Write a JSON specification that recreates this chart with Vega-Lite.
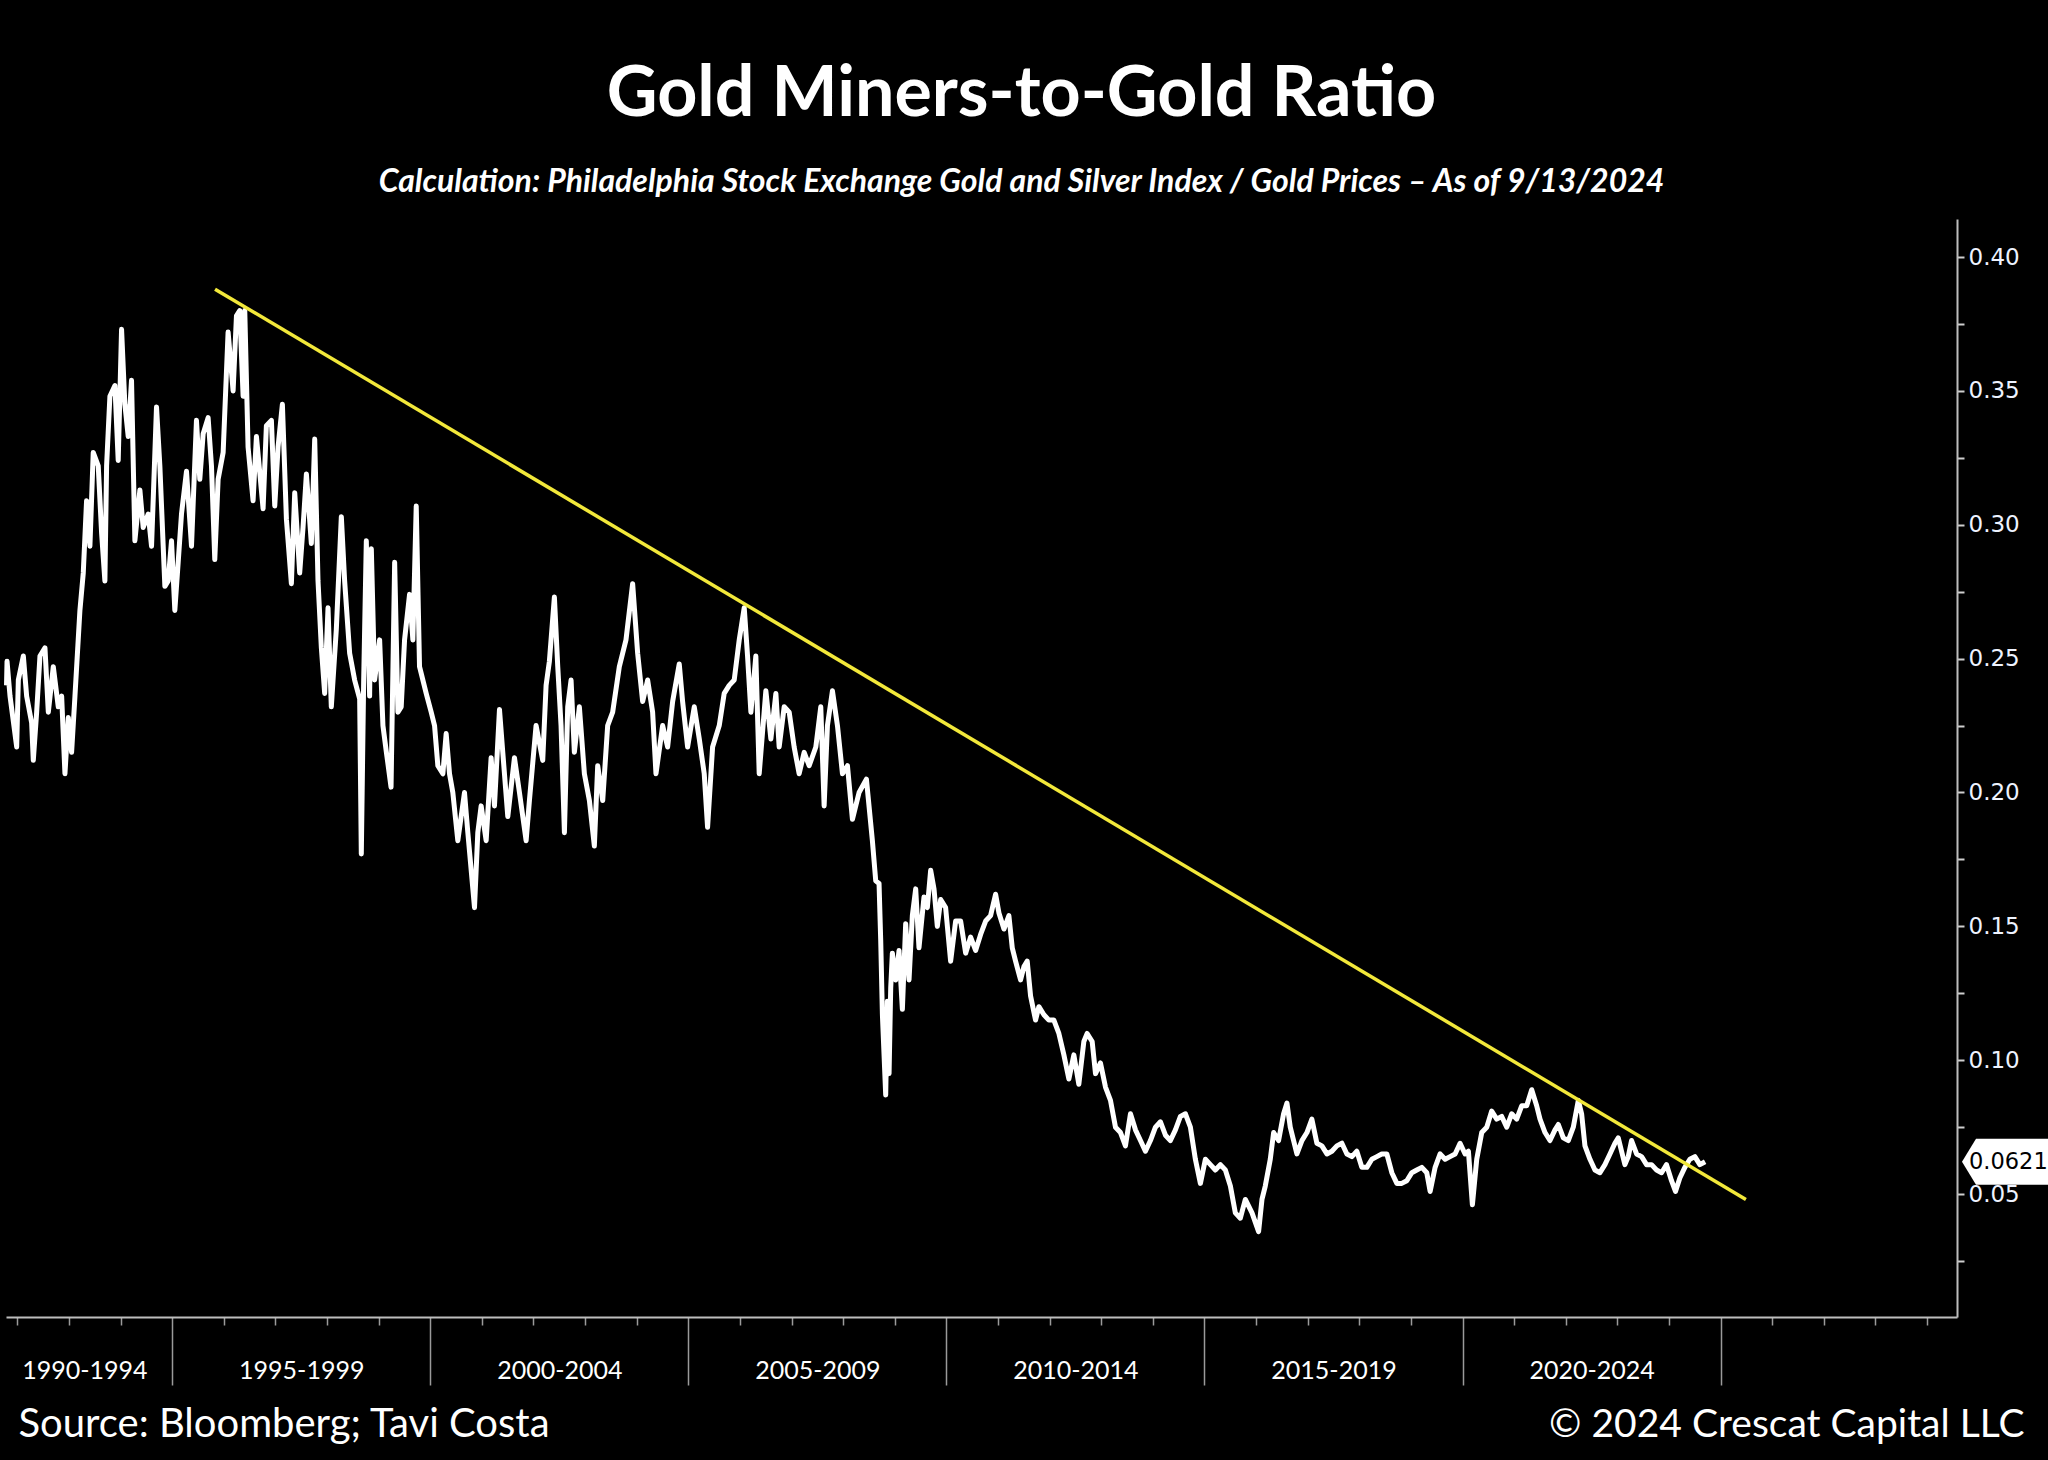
{
  "$schema": "https://vega.github.io/schema/vega-lite/v6.json",
  "width": 1951,
  "height": 1098,
  "autosize": {"type": "none"},
  "padding": {"left": 6, "top": 219, "right": 91, "bottom": 143},
  "background": "#000000",
  "config": {"view": {"stroke": null}, "font": "Lato"},
  "title": {
    "text": "Gold Miners-to-Gold Ratio",
    "subtitle": "Calculation: Philadelphia Stock Exchange Gold and Silver Index / Gold Prices – As of 9/13/2024",
    "anchor": "middle",
    "dx": 40,
    "color": "#ffffff",
    "subtitleColor": "#ffffff",
    "font": "Lato",
    "fontSize": 70,
    "fontWeight": "bold",
    "subtitleFont": "Lato",
    "subtitleFontSize": 32,
    "subtitleFontWeight": "bold",
    "subtitleFontStyle": "italic",
    "subtitlePadding": 36,
    "offset": 20
  },
  "datasets": {
    "main": [
      {"year": 1991.79, "ratio": 0.240}, {"year": 1991.80, "ratio": 0.249}, {"year": 1991.858, "ratio": 0.236}, {"year": 1991.987, "ratio": 0.217},
      {"year": 1992.019, "ratio": 0.242}, {"year": 1992.116, "ratio": 0.251}, {"year": 1992.18, "ratio": 0.236}, {"year": 1992.277, "ratio": 0.226},
      {"year": 1992.309, "ratio": 0.212}, {"year": 1992.374, "ratio": 0.230}, {"year": 1992.438, "ratio": 0.251}, {"year": 1992.535, "ratio": 0.254},
      {"year": 1992.6, "ratio": 0.230}, {"year": 1992.696, "ratio": 0.247}, {"year": 1992.793, "ratio": 0.232}, {"year": 1992.858, "ratio": 0.236},
      {"year": 1992.922, "ratio": 0.207}, {"year": 1992.987, "ratio": 0.228}, {"year": 1993.051, "ratio": 0.215}, {"year": 1993.116, "ratio": 0.236},
      {"year": 1993.212, "ratio": 0.268}, {"year": 1993.277, "ratio": 0.282}, {"year": 1993.341, "ratio": 0.309}, {"year": 1993.406, "ratio": 0.292},
      {"year": 1993.47, "ratio": 0.327}, {"year": 1993.567, "ratio": 0.322}, {"year": 1993.632, "ratio": 0.297}, {"year": 1993.696, "ratio": 0.279},
      {"year": 1993.729, "ratio": 0.322}, {"year": 1993.793, "ratio": 0.348}, {"year": 1993.89, "ratio": 0.352}, {"year": 1993.954, "ratio": 0.324},
      {"year": 1994.019, "ratio": 0.373}, {"year": 1994.083, "ratio": 0.345}, {"year": 1994.148, "ratio": 0.333}, {"year": 1994.212, "ratio": 0.354},
      {"year": 1994.277, "ratio": 0.294}, {"year": 1994.374, "ratio": 0.313}, {"year": 1994.438, "ratio": 0.299}, {"year": 1994.535, "ratio": 0.304},
      {"year": 1994.6, "ratio": 0.292}, {"year": 1994.696, "ratio": 0.344}, {"year": 1994.761, "ratio": 0.322}, {"year": 1994.858, "ratio": 0.277},
      {"year": 1994.922, "ratio": 0.279}, {"year": 1994.987, "ratio": 0.294}, {"year": 1995.051, "ratio": 0.268}, {"year": 1995.116, "ratio": 0.286},
      {"year": 1995.18, "ratio": 0.304}, {"year": 1995.277, "ratio": 0.320}, {"year": 1995.374, "ratio": 0.292}, {"year": 1995.47, "ratio": 0.339},
      {"year": 1995.535, "ratio": 0.317}, {"year": 1995.6, "ratio": 0.334}, {"year": 1995.696, "ratio": 0.340}, {"year": 1995.761, "ratio": 0.322},
      {"year": 1995.825, "ratio": 0.287}, {"year": 1995.89, "ratio": 0.317}, {"year": 1995.987, "ratio": 0.327}, {"year": 1996.083, "ratio": 0.372},
      {"year": 1996.18, "ratio": 0.350}, {"year": 1996.245, "ratio": 0.378}, {"year": 1996.309, "ratio": 0.380}, {"year": 1996.374, "ratio": 0.348},
      {"year": 1996.406, "ratio": 0.380}, {"year": 1996.47, "ratio": 0.329}, {"year": 1996.567, "ratio": 0.309}, {"year": 1996.632, "ratio": 0.333},
      {"year": 1996.761, "ratio": 0.306}, {"year": 1996.825, "ratio": 0.337}, {"year": 1996.922, "ratio": 0.339}, {"year": 1996.987, "ratio": 0.307},
      {"year": 1997.051, "ratio": 0.329}, {"year": 1997.135, "ratio": 0.345}, {"year": 1997.213, "ratio": 0.302}, {"year": 1997.309, "ratio": 0.278},
      {"year": 1997.374, "ratio": 0.312}, {"year": 1997.47, "ratio": 0.282}, {"year": 1997.535, "ratio": 0.299}, {"year": 1997.6, "ratio": 0.319},
      {"year": 1997.696, "ratio": 0.293}, {"year": 1997.761, "ratio": 0.332}, {"year": 1997.825, "ratio": 0.279}, {"year": 1997.89, "ratio": 0.254},
      {"year": 1997.954, "ratio": 0.237}, {"year": 1998.019, "ratio": 0.269}, {"year": 1998.083, "ratio": 0.232}, {"year": 1998.18, "ratio": 0.261},
      {"year": 1998.277, "ratio": 0.303}, {"year": 1998.341, "ratio": 0.279}, {"year": 1998.438, "ratio": 0.252}, {"year": 1998.535, "ratio": 0.242},
      {"year": 1998.632, "ratio": 0.235}, {"year": 1998.664, "ratio": 0.177}, {"year": 1998.71, "ratio": 0.242}, {"year": 1998.761, "ratio": 0.294},
      {"year": 1998.825, "ratio": 0.236}, {"year": 1998.858, "ratio": 0.291}, {"year": 1998.922, "ratio": 0.242}, {"year": 1999.019, "ratio": 0.257},
      {"year": 1999.083, "ratio": 0.225}, {"year": 1999.15, "ratio": 0.215}, {"year": 1999.24, "ratio": 0.202}, {"year": 1999.31, "ratio": 0.286},
      {"year": 1999.373, "ratio": 0.230}, {"year": 1999.437, "ratio": 0.232}, {"year": 1999.502, "ratio": 0.257}, {"year": 1999.599, "ratio": 0.274},
      {"year": 1999.663, "ratio": 0.257}, {"year": 1999.728, "ratio": 0.307}, {"year": 1999.792, "ratio": 0.247}, {"year": 1999.921, "ratio": 0.237},
      {"year": 2000.018, "ratio": 0.230}, {"year": 2000.083, "ratio": 0.225}, {"year": 2000.147, "ratio": 0.210}, {"year": 2000.244, "ratio": 0.207},
      {"year": 2000.308, "ratio": 0.222}, {"year": 2000.373, "ratio": 0.207}, {"year": 2000.437, "ratio": 0.200}, {"year": 2000.534, "ratio": 0.182},
      {"year": 2000.663, "ratio": 0.200}, {"year": 2000.728, "ratio": 0.185}, {"year": 2000.857, "ratio": 0.157}, {"year": 2000.921, "ratio": 0.185},
      {"year": 2000.986, "ratio": 0.195}, {"year": 2001.083, "ratio": 0.182}, {"year": 2001.179, "ratio": 0.213}, {"year": 2001.244, "ratio": 0.195},
      {"year": 2001.341, "ratio": 0.231}, {"year": 2001.405, "ratio": 0.215}, {"year": 2001.502, "ratio": 0.191}, {"year": 2001.631, "ratio": 0.213},
      {"year": 2001.728, "ratio": 0.200}, {"year": 2001.857, "ratio": 0.182}, {"year": 2001.921, "ratio": 0.197}, {"year": 2002.05, "ratio": 0.225},
      {"year": 2002.179, "ratio": 0.212}, {"year": 2002.244, "ratio": 0.240}, {"year": 2002.308, "ratio": 0.249}, {"year": 2002.405, "ratio": 0.273},
      {"year": 2002.47, "ratio": 0.247}, {"year": 2002.534, "ratio": 0.225}, {"year": 2002.599, "ratio": 0.185}, {"year": 2002.663, "ratio": 0.232},
      {"year": 2002.728, "ratio": 0.242}, {"year": 2002.792, "ratio": 0.215}, {"year": 2002.889, "ratio": 0.232}, {"year": 2002.986, "ratio": 0.207},
      {"year": 2003.083, "ratio": 0.197}, {"year": 2003.179, "ratio": 0.180}, {"year": 2003.244, "ratio": 0.210}, {"year": 2003.341, "ratio": 0.197},
      {"year": 2003.437, "ratio": 0.225}, {"year": 2003.534, "ratio": 0.230}, {"year": 2003.663, "ratio": 0.247}, {"year": 2003.792, "ratio": 0.257},
      {"year": 2003.921, "ratio": 0.278}, {"year": 2004.018, "ratio": 0.252}, {"year": 2004.115, "ratio": 0.234}, {"year": 2004.212, "ratio": 0.242},
      {"year": 2004.308, "ratio": 0.230}, {"year": 2004.373, "ratio": 0.207}, {"year": 2004.502, "ratio": 0.225}, {"year": 2004.599, "ratio": 0.217},
      {"year": 2004.696, "ratio": 0.234}, {"year": 2004.824, "ratio": 0.248}, {"year": 2004.889, "ratio": 0.234}, {"year": 2004.986, "ratio": 0.217},
      {"year": 2005.115, "ratio": 0.232}, {"year": 2005.212, "ratio": 0.220}, {"year": 2005.308, "ratio": 0.207}, {"year": 2005.373, "ratio": 0.187},
      {"year": 2005.47, "ratio": 0.217}, {"year": 2005.599, "ratio": 0.225}, {"year": 2005.695, "ratio": 0.237}, {"year": 2005.792, "ratio": 0.240},
      {"year": 2005.889, "ratio": 0.242}, {"year": 2005.986, "ratio": 0.257}, {"year": 2006.083, "ratio": 0.269}, {"year": 2006.147, "ratio": 0.251},
      {"year": 2006.212, "ratio": 0.230}, {"year": 2006.308, "ratio": 0.251}, {"year": 2006.373, "ratio": 0.207}, {"year": 2006.502, "ratio": 0.238},
      {"year": 2006.599, "ratio": 0.220}, {"year": 2006.696, "ratio": 0.237}, {"year": 2006.76, "ratio": 0.217}, {"year": 2006.857, "ratio": 0.232},
      {"year": 2006.954, "ratio": 0.230}, {"year": 2007.05, "ratio": 0.217}, {"year": 2007.147, "ratio": 0.207}, {"year": 2007.244, "ratio": 0.215},
      {"year": 2007.341, "ratio": 0.210}, {"year": 2007.47, "ratio": 0.217}, {"year": 2007.566, "ratio": 0.232}, {"year": 2007.631, "ratio": 0.195},
      {"year": 2007.695, "ratio": 0.225}, {"year": 2007.792, "ratio": 0.238}, {"year": 2007.889, "ratio": 0.225}, {"year": 2007.986, "ratio": 0.207},
      {"year": 2008.083, "ratio": 0.210}, {"year": 2008.179, "ratio": 0.190}, {"year": 2008.308, "ratio": 0.200}, {"year": 2008.45, "ratio": 0.205},
      {"year": 2008.566, "ratio": 0.182}, {"year": 2008.631, "ratio": 0.167}, {"year": 2008.695, "ratio": 0.166}, {"year": 2008.727, "ratio": 0.145},
      {"year": 2008.76, "ratio": 0.117}, {"year": 2008.824, "ratio": 0.087}, {"year": 2008.856, "ratio": 0.122}, {"year": 2008.889, "ratio": 0.095},
      {"year": 2008.921, "ratio": 0.127}, {"year": 2008.953, "ratio": 0.140}, {"year": 2009.018, "ratio": 0.130}, {"year": 2009.082, "ratio": 0.141},
      {"year": 2009.147, "ratio": 0.119}, {"year": 2009.211, "ratio": 0.151}, {"year": 2009.276, "ratio": 0.130}, {"year": 2009.34, "ratio": 0.154},
      {"year": 2009.405, "ratio": 0.164}, {"year": 2009.469, "ratio": 0.142}, {"year": 2009.566, "ratio": 0.161}, {"year": 2009.631, "ratio": 0.157},
      {"year": 2009.695, "ratio": 0.171}, {"year": 2009.76, "ratio": 0.164}, {"year": 2009.824, "ratio": 0.150}, {"year": 2009.889, "ratio": 0.160},
      {"year": 2009.985, "ratio": 0.157}, {"year": 2010.082, "ratio": 0.137}, {"year": 2010.179, "ratio": 0.152}, {"year": 2010.276, "ratio": 0.152},
      {"year": 2010.373, "ratio": 0.140}, {"year": 2010.469, "ratio": 0.146}, {"year": 2010.566, "ratio": 0.141}, {"year": 2010.663, "ratio": 0.147},
      {"year": 2010.76, "ratio": 0.152}, {"year": 2010.856, "ratio": 0.154}, {"year": 2010.953, "ratio": 0.162}, {"year": 2011.018, "ratio": 0.155},
      {"year": 2011.115, "ratio": 0.149}, {"year": 2011.211, "ratio": 0.154}, {"year": 2011.276, "ratio": 0.142}, {"year": 2011.34, "ratio": 0.137},
      {"year": 2011.437, "ratio": 0.130}, {"year": 2011.502, "ratio": 0.135}, {"year": 2011.566, "ratio": 0.137}, {"year": 2011.631, "ratio": 0.124},
      {"year": 2011.727, "ratio": 0.115}, {"year": 2011.792, "ratio": 0.120}, {"year": 2011.889, "ratio": 0.117}, {"year": 2011.985, "ratio": 0.115},
      {"year": 2012.082, "ratio": 0.115}, {"year": 2012.179, "ratio": 0.110}, {"year": 2012.276, "ratio": 0.102}, {"year": 2012.373, "ratio": 0.093},
      {"year": 2012.469, "ratio": 0.102}, {"year": 2012.566, "ratio": 0.091}, {"year": 2012.663, "ratio": 0.107}, {"year": 2012.727, "ratio": 0.110},
      {"year": 2012.824, "ratio": 0.107}, {"year": 2012.889, "ratio": 0.095}, {"year": 2012.985, "ratio": 0.099}, {"year": 2013.082, "ratio": 0.090},
      {"year": 2013.179, "ratio": 0.085}, {"year": 2013.276, "ratio": 0.075}, {"year": 2013.373, "ratio": 0.073}, {"year": 2013.469, "ratio": 0.068},
      {"year": 2013.566, "ratio": 0.080}, {"year": 2013.663, "ratio": 0.074}, {"year": 2013.76, "ratio": 0.070}, {"year": 2013.856, "ratio": 0.066},
      {"year": 2013.953, "ratio": 0.070}, {"year": 2014.05, "ratio": 0.075}, {"year": 2014.147, "ratio": 0.077}, {"year": 2014.244, "ratio": 0.072},
      {"year": 2014.34, "ratio": 0.070}, {"year": 2014.437, "ratio": 0.074}, {"year": 2014.534, "ratio": 0.079}, {"year": 2014.631, "ratio": 0.080},
      {"year": 2014.727, "ratio": 0.075}, {"year": 2014.824, "ratio": 0.063}, {"year": 2014.921, "ratio": 0.054}, {"year": 2015.018, "ratio": 0.063},
      {"year": 2015.115, "ratio": 0.061}, {"year": 2015.211, "ratio": 0.059}, {"year": 2015.308, "ratio": 0.061}, {"year": 2015.405, "ratio": 0.059},
      {"year": 2015.502, "ratio": 0.053}, {"year": 2015.598, "ratio": 0.043}, {"year": 2015.695, "ratio": 0.041}, {"year": 2015.792, "ratio": 0.048},
      {"year": 2015.921, "ratio": 0.043}, {"year": 2016.049, "ratio": 0.036}, {"year": 2016.114, "ratio": 0.048}, {"year": 2016.178, "ratio": 0.053},
      {"year": 2016.275, "ratio": 0.063}, {"year": 2016.34, "ratio": 0.073}, {"year": 2016.436, "ratio": 0.070}, {"year": 2016.533, "ratio": 0.080},
      {"year": 2016.598, "ratio": 0.084}, {"year": 2016.662, "ratio": 0.075}, {"year": 2016.727, "ratio": 0.070}, {"year": 2016.791, "ratio": 0.065},
      {"year": 2016.888, "ratio": 0.070}, {"year": 2016.985, "ratio": 0.073}, {"year": 2017.081, "ratio": 0.078}, {"year": 2017.178, "ratio": 0.069},
      {"year": 2017.275, "ratio": 0.068}, {"year": 2017.372, "ratio": 0.065}, {"year": 2017.469, "ratio": 0.066}, {"year": 2017.565, "ratio": 0.068},
      {"year": 2017.662, "ratio": 0.069}, {"year": 2017.759, "ratio": 0.065}, {"year": 2017.856, "ratio": 0.064}, {"year": 2017.952, "ratio": 0.066},
      {"year": 2018.049, "ratio": 0.060}, {"year": 2018.146, "ratio": 0.060}, {"year": 2018.243, "ratio": 0.063}, {"year": 2018.34, "ratio": 0.064},
      {"year": 2018.436, "ratio": 0.065}, {"year": 2018.533, "ratio": 0.065}, {"year": 2018.63, "ratio": 0.058}, {"year": 2018.727, "ratio": 0.054},
      {"year": 2018.823, "ratio": 0.054}, {"year": 2018.92, "ratio": 0.055}, {"year": 2019.017, "ratio": 0.058}, {"year": 2019.114, "ratio": 0.059},
      {"year": 2019.211, "ratio": 0.060}, {"year": 2019.307, "ratio": 0.058}, {"year": 2019.372, "ratio": 0.051}, {"year": 2019.469, "ratio": 0.060},
      {"year": 2019.565, "ratio": 0.065}, {"year": 2019.662, "ratio": 0.063}, {"year": 2019.759, "ratio": 0.064}, {"year": 2019.856, "ratio": 0.065},
      {"year": 2019.952, "ratio": 0.069}, {"year": 2020.049, "ratio": 0.065}, {"year": 2020.114, "ratio": 0.066}, {"year": 2020.191, "ratio": 0.046},
      {"year": 2020.275, "ratio": 0.063}, {"year": 2020.372, "ratio": 0.073}, {"year": 2020.469, "ratio": 0.075}, {"year": 2020.565, "ratio": 0.081},
      {"year": 2020.662, "ratio": 0.078}, {"year": 2020.759, "ratio": 0.079}, {"year": 2020.856, "ratio": 0.075}, {"year": 2020.952, "ratio": 0.080},
      {"year": 2021.049, "ratio": 0.078}, {"year": 2021.146, "ratio": 0.083}, {"year": 2021.243, "ratio": 0.083}, {"year": 2021.34, "ratio": 0.089},
      {"year": 2021.436, "ratio": 0.083}, {"year": 2021.501, "ratio": 0.078}, {"year": 2021.598, "ratio": 0.073}, {"year": 2021.694, "ratio": 0.070},
      {"year": 2021.791, "ratio": 0.074}, {"year": 2021.856, "ratio": 0.076}, {"year": 2021.952, "ratio": 0.071}, {"year": 2022.049, "ratio": 0.070},
      {"year": 2022.146, "ratio": 0.075}, {"year": 2022.243, "ratio": 0.085}, {"year": 2022.307, "ratio": 0.080}, {"year": 2022.372, "ratio": 0.068},
      {"year": 2022.469, "ratio": 0.063}, {"year": 2022.565, "ratio": 0.059}, {"year": 2022.662, "ratio": 0.058}, {"year": 2022.759, "ratio": 0.061},
      {"year": 2022.856, "ratio": 0.065}, {"year": 2022.952, "ratio": 0.069}, {"year": 2023.017, "ratio": 0.071}, {"year": 2023.081, "ratio": 0.066},
      {"year": 2023.146, "ratio": 0.061}, {"year": 2023.211, "ratio": 0.064}, {"year": 2023.275, "ratio": 0.070}, {"year": 2023.372, "ratio": 0.065},
      {"year": 2023.469, "ratio": 0.064}, {"year": 2023.565, "ratio": 0.061}, {"year": 2023.662, "ratio": 0.061}, {"year": 2023.759, "ratio": 0.059},
      {"year": 2023.856, "ratio": 0.058}, {"year": 2023.952, "ratio": 0.061}, {"year": 2024.049, "ratio": 0.055}, {"year": 2024.126, "ratio": 0.051},
      {"year": 2024.21, "ratio": 0.056}, {"year": 2024.307, "ratio": 0.060}, {"year": 2024.404, "ratio": 0.063}, {"year": 2024.501, "ratio": 0.064},
      {"year": 2024.598, "ratio": 0.061}, {"year": 2024.70, "ratio": 0.0621}
    ],
    "trend": [
      {"year": 1995.83, "ratio": 0.388},
      {"year": 2025.49, "ratio": 0.048}
    ]
  },
  "layer": [
    {
      "data": {"name": "main"},
      "mark": {"type": "line", "color": "#ffffff", "strokeWidth": 5, "strokeJoin": "round"},
      "encoding": {
        "x": {
          "field": "year",
          "type": "quantitative",
          "scale": {"domain": [1991.78, 2029.58], "nice": false, "zero": false},
          "axis": {
            "title": "Source: Bloomberg; Tavi Costa",
            "titleFont": "Lato",
            "titleFontSize": 40,
            "titleFontWeight": "normal",
            "titleColor": "#ffffff",
            "titleAnchor": "start",
            "titleAlign": "left",
            "titleBaseline": "middle",
            "titleX": 12,
            "titleY": 107,
            "values": [1992, 1993, 1993.3, 1994, 1995, 1996, 1997, 1997.5, 1998, 1999, 2000, 2001, 2002, 2002.5, 2003, 2004, 2005, 2006, 2007, 2007.5, 2008, 2009, 2010, 2011, 2012, 2012.5, 2013, 2014, 2015, 2016, 2017, 2017.5, 2018, 2019, 2020, 2021, 2022, 2022.5, 2023, 2024, 2025, 2026, 2027, 2028, 2029],
            "labelExpr": "datum.value % 1 == 0 ? '' : (floor(datum.value / 5) * 5) + '-' + (floor(datum.value / 5) * 5 + 4)",
            "labelColor": "#ffffff",
            "labelFont": "Lato",
            "labelFontSize": 25,
            "labelPadding": 33,
            "labelOverlap": false,
            "labelFlush": false,
            "labelBound": false,
            "domainColor": "#bdbdbd",
            "domainWidth": 2,
            "tickColor": "#9a9a9a",
            "tickWidth": 1.5,
            "tickSize": {"condition": {"test": "datum.value % 5 == 0", "value": 68}, "value": 8},
            "tickOpacity": {"condition": {"test": "datum.value % 1 != 0", "value": 0}, "value": 1},
            "grid": false
          }
        },
        "y": {
          "field": "ratio",
          "type": "quantitative",
          "scale": {"domain": [0.0041, 0.4142], "nice": false, "zero": false},
          "axis": {
            "orient": "right",
            "title": "© 2024 Crescat Capital LLC",
            "titleFont": "Lato",
            "titleFontSize": 39,
            "titleFontWeight": "normal",
            "titleColor": "#ffffff",
            "titleAngle": 0,
            "titleAlign": "right",
            "titleBaseline": "middle",
            "titleX": 67,
            "titleY": 1205,
            "values": [0.025, 0.05, 0.075, 0.1, 0.125, 0.15, 0.175, 0.2, 0.225, 0.25, 0.275, 0.3, 0.325, 0.35, 0.375, 0.4],
            "labelExpr": "round(datum.value * 1000) % 50 == 0 ? format(datum.value, '.2f') : ''",
            "labelColor": "#eef3ff",
            "labelFont": "DejaVu Sans",
            "labelFontSize": 23,
            "labelPadding": 4,
            "labelAlign": "left",
            "labelBaseline": "middle",
            "labelOverlap": false,
            "labelFlush": false,
            "domainColor": "#bdbdbd",
            "domainWidth": 2,
            "tickColor": "#cfcfcf",
            "tickWidth": 2,
            "tickSize": 7,
            "grid": false
          }
        }
      }
    },
    {
      "data": {"name": "trend"},
      "mark": {"type": "line", "color": "#f2e83a", "strokeWidth": 3.5},
      "encoding": {
        "x": {"field": "year", "type": "quantitative"},
        "y": {"field": "ratio", "type": "quantitative"}
      }
    },
    {
      "data": {"values": [{"last": 0.0621, "label": "0.0621"}]},
      "mark": {"type": "point", "shape": "M 0.05 0 L 0.19 -0.23 L 1.1 -0.23 L 1.1 0.23 L 0.19 0.23 Z", "filled": true, "color": "#ffffff", "strokeWidth": 0, "size": 40000, "opacity": 1},
      "encoding": {
        "x": {"datum": 2029.58, "type": "quantitative"},
        "y": {"field": "last", "type": "quantitative"}
      }
    },
    {
      "data": {"values": [{"last": 0.0621, "label": "0.0621"}]},
      "mark": {"type": "text", "align": "left", "baseline": "middle", "dx": 12, "font": "DejaVu Sans", "fontSize": 22.5, "color": "#000000"},
      "encoding": {
        "x": {"datum": 2029.58, "type": "quantitative"},
        "y": {"field": "last", "type": "quantitative"},
        "text": {"field": "label"}
      }
    }
  ]
}
